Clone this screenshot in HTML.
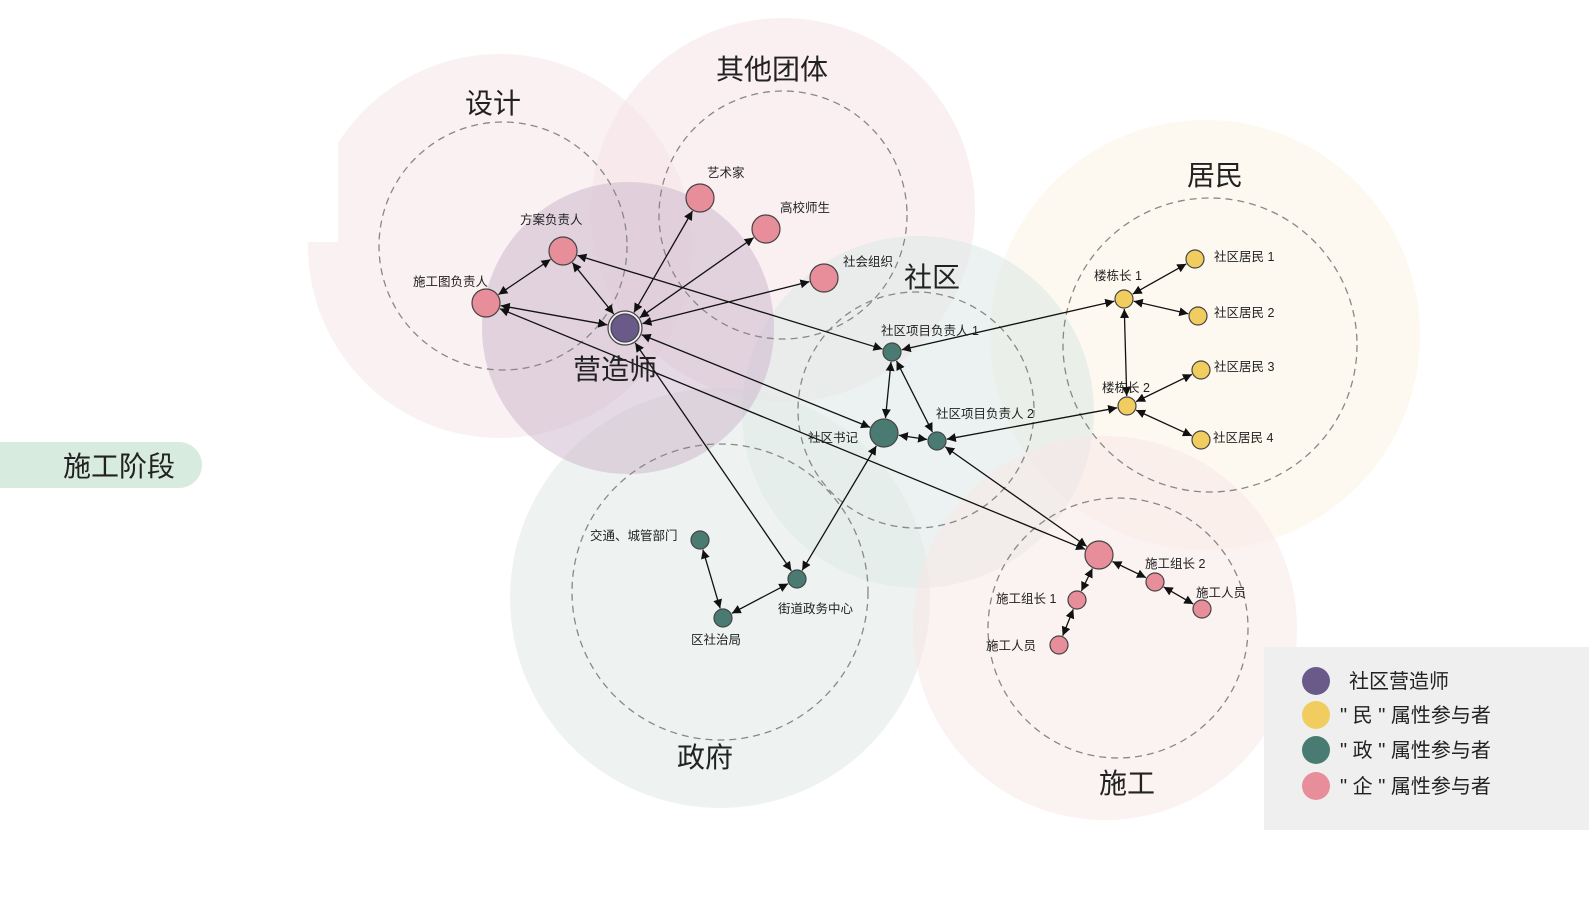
<!DOCTYPE html>
<html><head><meta charset="utf-8"><style>
html,body{margin:0;padding:0;background:#fff;}
svg{display:block;font-family:"Liberation Sans","Noto Sans CJK SC",sans-serif;}
</style></head><body>
<svg id="s" width="1589" height="902" viewBox="0 0 1589 902" xmlns="http://www.w3.org/2000/svg">
<defs>
<marker id="a" viewBox="0 0 10 10" refX="10" refY="5" markerWidth="9" markerHeight="9" orient="auto-start-reverse" markerUnits="userSpaceOnUse"><path d="M0,0 L10,5 L0,10 z" fill="#111"/></marker>
<clipPath id="cl"><path d="M338,0 H1589 V902 H0 V242 H338 z"/></clipPath>
</defs>
<g opacity="1">
<circle cx="500" cy="246" r="192" fill="#faf1f2" clip-path="url(#cl)"/>
<circle cx="783" cy="210" r="192" fill="#f6e3e7" opacity="0.55"/>
<circle cx="1205" cy="335" r="215" fill="#fcf8ec" opacity="0.8"/>
<circle cx="918" cy="412" r="176" fill="#dde8e5" opacity="0.55"/>
<circle cx="720" cy="598" r="210" fill="#e3ebe8" opacity="0.6"/>
<circle cx="1105" cy="628" r="192" fill="#f7e6e6" opacity="0.5"/>
<circle cx="628" cy="328" r="146" fill="#c9b4c9" opacity="0.5"/>
</g>
<g fill="none" stroke="#888" stroke-width="1.3" stroke-dasharray="7,5">
<circle cx="503" cy="246" r="124"/>
<circle cx="783" cy="215" r="124"/>
<circle cx="916" cy="410" r="118"/>
<circle cx="1210" cy="345" r="147"/>
<circle cx="720" cy="592" r="148"/>
<circle cx="1118" cy="628" r="130"/>
</g>
<g id="edges" stroke="#111" stroke-width="1.3" fill="none"></g>
<g id="nodes" stroke="#444" stroke-width="1.2"></g>
<g fill="#222" font-size="28">
<text x="465" y="113">设计</text>
<text x="716" y="79">其他团体</text>
<text x="904" y="287">社区</text>
<text x="1187" y="185">居民</text>
<text x="573" y="379">营造师</text>
<text x="677" y="767">政府</text>
<text x="1099" y="793">施工</text>
</g>
<g fill="#222" font-size="12.5">
<text x="520" y="224">方案负责人</text>
<text x="413" y="286">施工图负责人</text>
<text x="707" y="177">艺术家</text>
<text x="780" y="212">高校师生</text>
<text x="843" y="266">社会组织</text>
<text x="881" y="335">社区项目负责人 1</text>
<text x="936" y="418">社区项目负责人 2</text>
<text x="808" y="442">社区书记</text>
<text x="1094" y="280">楼栋长 1</text>
<text x="1102" y="392">楼栋长 2</text>
<text x="1214" y="261">社区居民 1</text>
<text x="1214" y="317">社区居民 2</text>
<text x="1214" y="371">社区居民 3</text>
<text x="1213" y="442">社区居民 4</text>
<text x="590" y="540">交通、城管部门</text>
<text x="691" y="644">区社治局</text>
<text x="778" y="613">街道政务中心</text>
<text x="1145" y="568">施工组长 2</text>
<text x="1196" y="597">施工人员</text>
<text x="996" y="603">施工组长 1</text>
<text x="986" y="650">施工人员</text>
</g>
<path d="M0,442 H179 A23,23 0 0 1 202,465 A23,23 0 0 1 179,488 H0 z" fill="#d8ebdf"/>
<text x="63" y="476" font-size="28" fill="#222">施工阶段</text>
<rect x="1264" y="647" width="325" height="183" fill="#efefef"/>
<circle cx="1316" cy="681" r="14" fill="#6a5a8a"/>
<circle cx="1316" cy="715" r="14" fill="#f0cd5e"/>
<circle cx="1316" cy="750" r="14" fill="#4a7b73"/>
<circle cx="1316" cy="786" r="14" fill="#e88d9a"/>
<g font-size="20" fill="#222">
<text x="1349" y="688">社区营造师</text>
<text x="1340" y="722">" 民 " 属性参与者</text>
<text x="1340" y="757">" 政 " 属性参与者</text>
<text x="1340" y="793">" 企 " 属性参与者</text>
</g>
</svg>
<script>
var P="#e88d9a",T="#4a7b73",Y="#f0cd5e";
var N={
m:[625,328,17,"#6a5a8a"],fa:[563,251,14,P],sg:[486,303,14,P],ys:[700,198,14,P],gx:[766,229,14,P],sh:[824,278,14,P],
p1:[892,352,9,T],sj:[884,433,14,T],p2:[937,441,9,T],
l1:[1124,299,9,Y],l2:[1127,406,9,Y],r1:[1195,259,9,Y],r2:[1198,316,9,Y],r3:[1201,370,9,Y],r4:[1201,440,9,Y],
jt:[700,540,9,T],qs:[723,618,9,T],jd:[797,579,9,T],
sc:[1099,555,14,P],z2:[1155,582,9,P],w2:[1202,609,9,P],z1:[1077,600,9,P],w1:[1059,645,9,P]};
var E=[["m","fa"],["m","sg"],["fa","sg"],["m","ys"],["m","gx"],["m","sh"],["fa","p1"],["sg","sc"],["m","sj"],["m","jd"],
["p1","l1"],["p1","sj"],["p1","p2"],["sj","p2"],["p2","l2"],["sj","jd"],["p2","sc"],["l1","l2"],["l1","r1"],["l1","r2"],
["l2","r3"],["l2","r4"],["jt","qs"],["qs","jd"],["sc","z2"],["z2","w2"],["sc","z1"],["z1","w1"]];
var ns="http://www.w3.org/2000/svg",eg=document.getElementById("edges"),ng=document.getElementById("nodes");
E.forEach(function(e){var a=N[e[0]],b=N[e[1]],dx=b[0]-a[0],dy=b[1]-a[1],d=Math.hypot(dx,dy),ux=dx/d,uy=dy/d;
var l=document.createElementNS(ns,"line");
l.setAttribute("x1",a[0]+ux*(a[2]+1));l.setAttribute("y1",a[1]+uy*(a[2]+1));
l.setAttribute("x2",b[0]-ux*(b[2]+1));l.setAttribute("y2",b[1]-uy*(b[2]+1));
l.setAttribute("marker-start","url(#a)");l.setAttribute("marker-end","url(#a)");eg.appendChild(l);});
for(var k in N){var n=N[k];
if(k=="m"){var r=document.createElementNS(ns,"circle");r.setAttribute("cx",n[0]);r.setAttribute("cy",n[1]);r.setAttribute("r",17);r.setAttribute("fill","#f3eef2");ng.appendChild(r);}
var c=document.createElementNS(ns,"circle");c.setAttribute("cx",n[0]);c.setAttribute("cy",n[1]);c.setAttribute("r",k=="m"?14:n[2]);c.setAttribute("fill",n[3]);ng.appendChild(c);}
</script>
</body></html>
